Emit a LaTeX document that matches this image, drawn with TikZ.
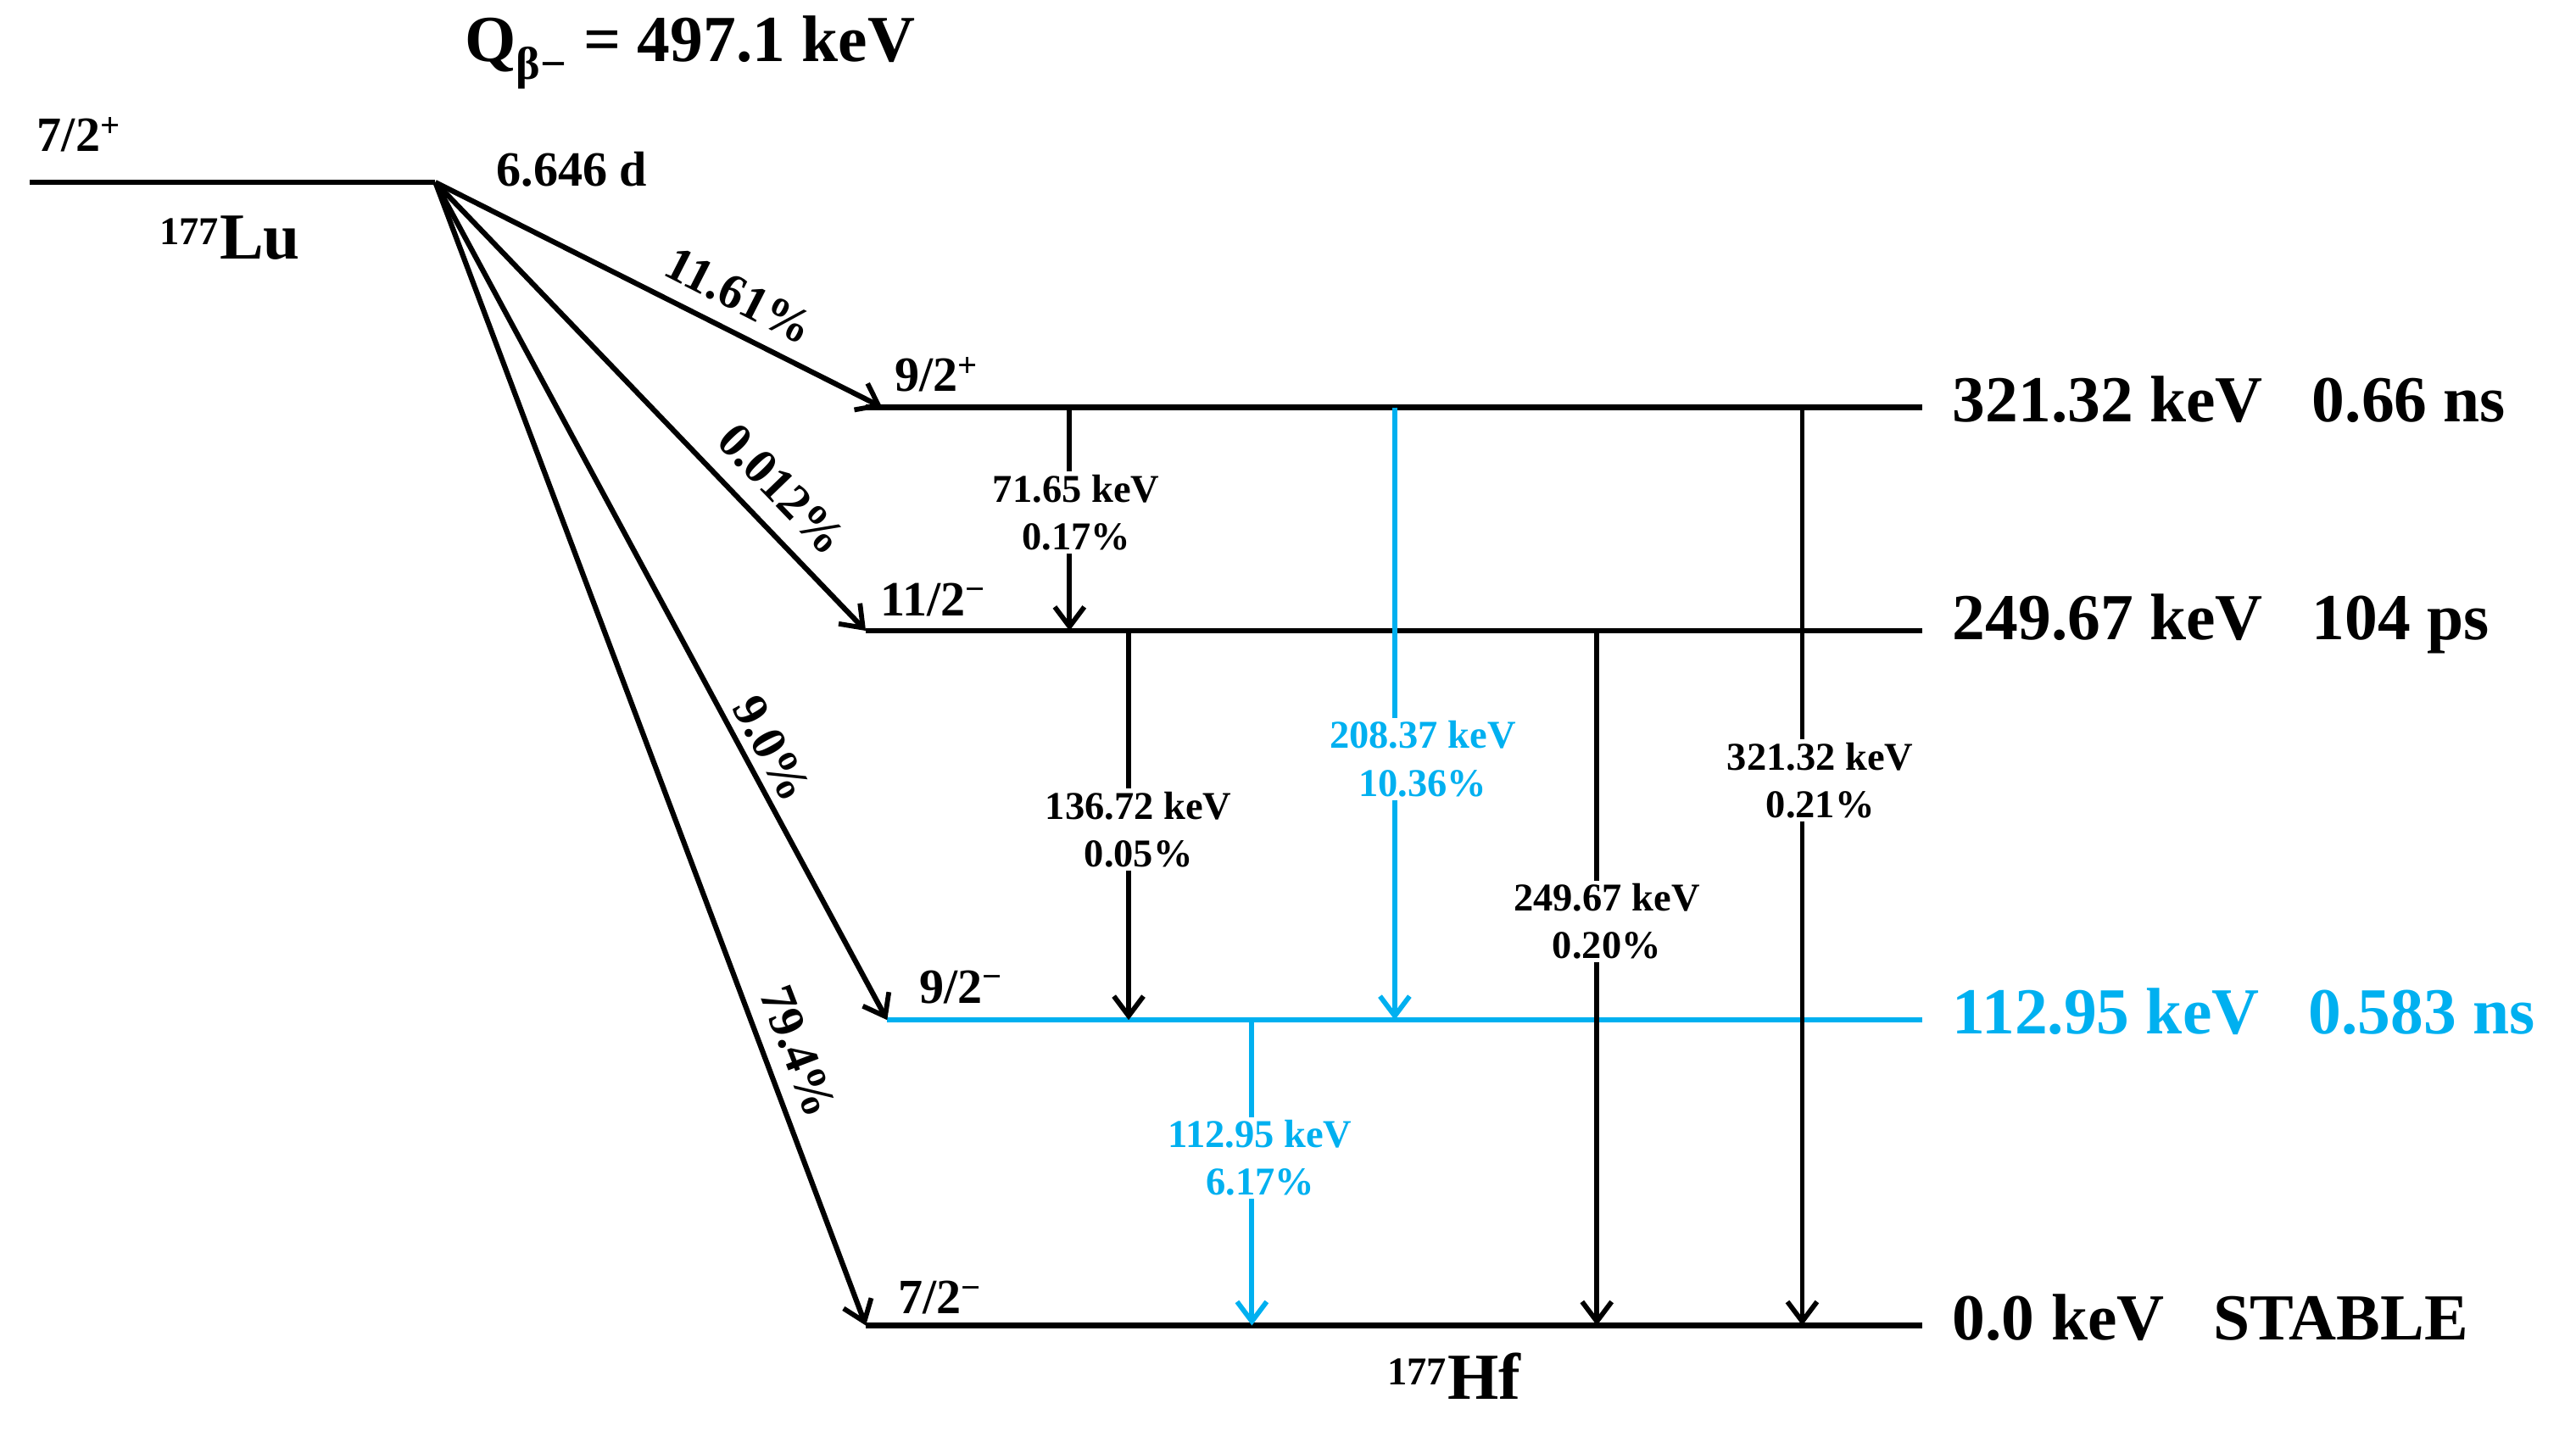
\documentclass[tikz,border=0pt]{standalone}
\usepackage{fontspec}
\setmainfont{Liberation Serif}
\usetikzlibrary{arrows.meta}
\definecolor{cy}{RGB}{0,176,240}
\begin{document}
\begin{tikzpicture}[x=1pt,y=-1pt,
  lvl/.style={line width=3.2pt},
  beta/.style={line width=3.2pt,-{Straight Barb[length=12pt,width=18pt,line width=3pt]}},
  gam/.style={line width=3pt,-{Straight Barb[length=12pt,width=18pt,line width=3pt]}},
  big/.style={font=\fontsize{40}{42}\selectfont\bfseries},
  mid/.style={font=\fontsize{30}{32}\selectfont\bfseries},
  sml/.style={font=\fontsize{24}{29}\selectfont\bfseries,fill=white,align=center,inner sep=2pt}]
\useasboundingbox (0,0) rectangle (1568,871);
% Lu
\coordinate (lu0) at (18,111); \coordinate (lu) at (265,111);
\draw[lvl] (lu0) -- (lu);
\node[mid] (s0) at (48,82) {7/2\textsuperscript{+}};
\node[big] (lun) at (140,145) {\textsuperscript{\fontsize{24}{26}\selectfont 177}Lu};
\node[mid] (hl) at (348,103) {6.646 d};
\node[big] (q) at (420,32) {Q\textsubscript{β−} = 497.1 keV};
% levels
\coordinate (a1) at (527,248); \coordinate (a2) at (1170,248);
\coordinate (b1) at (527,384); \coordinate (b2) at (1170,384);
\coordinate (c1) at (540,621); \coordinate (c2) at (1170,621);
\coordinate (d1) at (527,807); \coordinate (d2) at (1170,807);
\draw[lvl] (a1) -- (a2); \draw[lvl] (b1) -- (b2);
\draw[lvl,cy] (c1) -- (c2); \draw[lvl] (d1) -- (d2);
\node[big,anchor=west] (la) at (1185,243) {321.32 keV\hspace{30pt}0.66 ns};
\node[big,anchor=west] (lb) at (1185,380) {249.67 keV\hspace{30pt}104 ps};
\node[big,anchor=west,text=cy] (lc) at (1185,616) {112.95 keV\hspace{30pt}0.583 ns};
\node[big,anchor=west] (ld) at (1185,802) {0.0 keV\hspace{30pt}STABLE};
\node[mid] (sa) at (570,228) {9/2\textsuperscript{+}};
\node[mid] (sb) at (568,365) {11/2\textsuperscript{−}};
\node[mid] (sc) at (585,601) {9/2\textsuperscript{−}};
\node[mid] (sd) at (572,790) {7/2\textsuperscript{−}};
\node[big] (hf) at (885,838) {\textsuperscript{\fontsize{24}{26}\selectfont 177}Hf};
% beta
\draw[beta] (lu) -- (537,248);
\draw[beta] (lu) -- (b1);
\draw[beta] (lu) -- (c1);
\draw[beta] (lu) -- (d1);
\node[mid,rotate=-27] (p1) at (450,180) {11.61\%};
\node[mid,rotate=-46] (p2) at (476,298) {0.012\%};
\node[mid,rotate=-61.6] (p3) at (470,456) {9.0\%};
\node[mid,rotate=-69] (p4) at (486,640) {79.4\%};
% gammas
\coordinate (g1a) at (651,248); \coordinate (g1b) at (651,384);
\coordinate (g2a) at (687,384); \coordinate (g2b) at (687,621);
\coordinate (g3a) at (849,248); \coordinate (g3b) at (849,621);
\coordinate (g4a) at (972,384); \coordinate (g4b) at (972,807);
\coordinate (g5a) at (1097,248); \coordinate (g5b) at (1097,807);
\coordinate (g6a) at (762,621); \coordinate (g6b) at (762,807);
\draw[gam] (g1a) -- (g1b);
\draw[gam] (g2a) -- (g2b);
\draw[gam,cy] (g3a) -- (g3b);
\draw[gam] (g4a) -- (g4b);
\draw[gam] (g5a) -- (g5b);
\draw[gam,cy] (g6a) -- (g6b);
\node[sml] (t1) at (655,312) {71.65 keV\\0.17\%};
\node[sml] (t2) at (693,505) {136.72 keV\\0.05\%};
\node[sml,text=cy] (t3) at (866,462) {208.37 keV\\10.36\%};
\node[sml] (t4) at (978,561) {249.67 keV\\0.20\%};
\node[sml] (t5) at (1108,475) {321.32 keV\\0.21\%};
\node[sml,text=cy] (t6) at (767,705) {112.95 keV\\6.17\%};
\end{tikzpicture}
\end{document}
